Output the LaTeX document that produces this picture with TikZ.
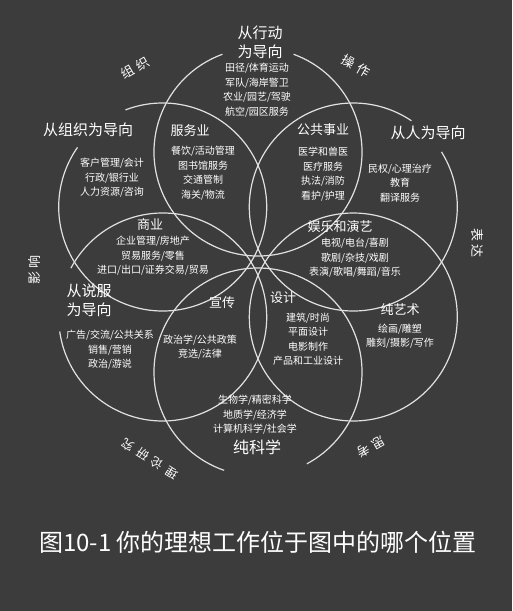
\documentclass[tikz,border=0pt]{standalone}
\usepackage{fontspec}
\newfontfamily\cjk{Noto Sans CJK SC}
\newfontfamily\cjkwide[LetterSpace=30]{Noto Sans CJK SC}
\newfontfamily\cjkwider[LetterSpace=45]{Noto Sans CJK SC}
\definecolor{bg}{RGB}{60,60,60}
\definecolor{linec}{RGB}{225,225,225}
\begin{document}
\begin{tikzpicture}[x=1pt,y=-1pt,
  ring/.style={draw=linec, line width=1.2pt},
  head/.style={text=white, font=\cjk\fontsize{15}{19}\selectfont, align=center, inner sep=0pt},
  sect/.style={text=white, font=\cjk\fontsize{13}{15}\selectfont, align=center, inner sep=0pt},
  lst/.style={text=white, font=\cjk\fontsize{10}{14.5}\selectfont, align=center, inner sep=0pt},
  outer/.style={text=white, font=\cjkwide\fontsize{13}{15}\selectfont, inner sep=0pt},
  capt/.style={text=white, font=\cjk\fontsize{24}{26}\selectfont, inner sep=0pt}]
\fill[bg] (0,0) rectangle (512,611);
\useasboundingbox (0,0) rectangle (512,611);
% circle centres
\coordinate (cT) at (258,152);
\coordinate (cB) at (258,372);
\coordinate (cUL) at (162.7,207);
\coordinate (cUR) at (353.3,207);
\coordinate (cLL) at (162.7,317);
\coordinate (cLR) at (353.3,317);
% rings (with gaps for the outer headings)
\draw[ring] (cT) ++(290:104) arc[start angle=290, end angle=610, radius=104];
\draw[ring] (cUL) ++(249:104) arc[start angle=249, end angle=575, radius=104];
\draw[ring] (cUR) ++(328:104) arc[start angle=328, end angle=664, radius=104];
\draw[ring] (cLL) ++(208:104) arc[start angle=208, end angle=532, radius=104];
\draw[ring] (cB) ++(109:104) arc[start angle=109, end angle=422, radius=104];
\draw[ring] (cLR) circle[radius=104];
% circle headings
\node[head] (hT) at (260,42) {从行动\\为导向};
\node[head] (hUL) at (88,130) {从组织为导向};
\node[head] (hUR) at (428,133) {从人为导向};
\node[head] (hLL) at (89,300) {从说服\\为导向};
\node[sect] (hLR) at (400,310) {纯艺术};
\node[head, font=\cjk\fontsize{16}{18}\selectfont] (hB) at (257,447) {纯科学};
% lists inside circles
\node[lst] (lT) at (257,90) {田径/体育运动\\军队/海岸警卫\\农业/园艺/驾驶\\航空/园区服务};
\node[lst] (lUL) at (112,178) {客户管理/会计\\行政/银行业\\人力资源/咨询};
\node[lst] (lUR) at (400,183) {民权/心理治疗\\教育\\翻译服务};
\node[lst] (lLL) at (110,350) {广告/交流/公共关系\\销售/营销\\政治/游说};
\node[lst] (lLR) at (400,336) {绘画/雕塑\\雕刻/摄影/写作};
\node[lst] (lB) at (255,415) {生物学/精密科学\\地质学/经济学\\计算机科学/社会学};
% overlap sections
\node[sect] (sSV) at (190,131) {服务业};
\node[lst] (lSV) at (203,173) {餐饮/活动管理\\图书馆服务\\交通管制\\海关/物流};
\node[sect] (sPU) at (323,130) {公共事业};
\node[lst] (lPU) at (323,174) {医学和兽医\\医疗服务\\执法/消防\\看护/护理};
\node[sect] (sBI) at (150,225) {商业};
\node[lst] (lBI) at (153,256) {企业管理/房地产\\贸易服务/零售\\进口/出口/证券交易/贸易};
\node[sect] (sEN) at (340,227) {娱乐和演艺};
\node[lst] (lEN) at (355,258) {电视/电台/喜剧\\歌剧/杂技/戏剧\\表演/歌唱/舞蹈/音乐};
\node[sect] (sPR) at (222,303) {宣传};
\node[lst] (lPR) at (200,347) {政治学/公共政策\\竞选/法律};
\node[sect] (sDE) at (283,298) {设计};
\node[lst] (lDE) at (308,339) {建筑/时尚\\平面设计\\电影制作\\产品和工业设计};
% outer labels
\node[outer, rotate=30] (oUL) at (135,68) {组织};
\node[outer, rotate=-30] (oUR) at (356,66) {操作};
\node[outer, rotate=-90] (oR) at (477,243) {表达};
\node[outer, rotate=210] (oLR) at (371,447) {思考};
\node[outer, font=\cjkwider\fontsize{12}{14}\selectfont, rotate=148] (oLL) at (150,459) {理论研究};
\node[outer, rotate=90] (oL) at (35,270) {影响};
% caption
\node[capt] (cap) at (258,542) {图10-1 你的理想工作位于图中的哪个位置};
\end{tikzpicture}
\end{document}
